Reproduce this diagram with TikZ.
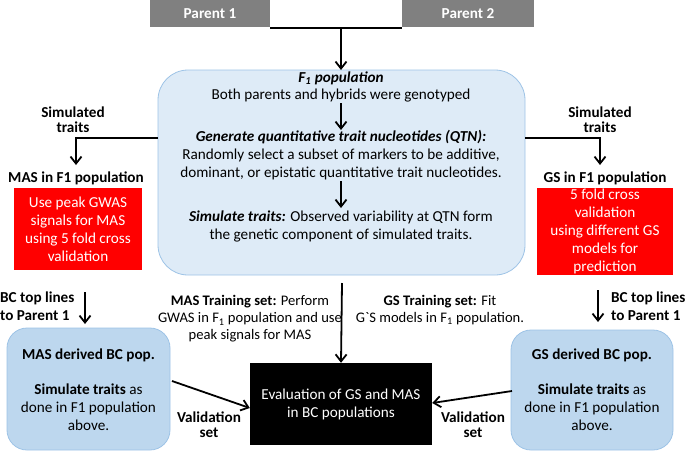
\documentclass[tikz,border=0pt]{standalone}
\usepackage{fontspec}
\setmainfont{Carlito}
\usetikzlibrary{arrows.meta}
\definecolor{parentgray}{HTML}{808080}
\definecolor{paleblue}{HTML}{DEEBF7}
\definecolor{midblue}{HTML}{BDD7EE}
\definecolor{edgeblue}{HTML}{9DC3E6}
\newcommand{\mainsize}{\fontsize{15.2}{18}\selectfont}
\tikzset{
  txt/.style={font=\mainsize, align=center, inner sep=0pt},
  boldtxt/.style={txt, font=\fontsize{15.2}{15}\selectfont\bfseries},
  traintxt/.style={txt, font=\fontsize{14.6}{17}\selectfont},
  parentbox/.style={fill=parentgray, text=white, font=\mainsize\bfseries, minimum width=120pt, minimum height=27pt, inner sep=0pt},
  redbox/.style={fill=red, text=white, txt},
  bcbox/.style={fill=midblue, draw=edgeblue, rounded corners=20pt, line width=0.8pt},
  arr/.style={-{Straight Barb[length=7pt,width=11pt,line width=1.8pt]}, line width=1.8pt},
}
\begin{document}
\begin{tikzpicture}[x=1pt,y=-1pt]
  \useasboundingbox (0,0) rectangle (685,451);
  % parents
  \node[parentbox] (p1) at (210,13.5) {Parent 1};
  \node[parentbox, minimum width=132pt] (p2) at (468,13.5) {Parent 2};
  \draw[line width=1.8pt] (270,28) -- (402,28);
  \coordinate (cross) at (341,28);
  % F1 population box
  \draw[fill=paleblue, draw=edgeblue, rounded corners=30pt, line width=0.8pt] (158,70) rectangle (525,275);
  \coordinate (ftop) at (341,70);
  \draw[arr] (cross) -- (ftop);
  \node[txt] (f1) at (341,78) {\textbf{\textit{F\textsubscript{1} population}}};
  \node[txt] (geno) at (341,96) {Both parents and hybrids were genotyped};
  \node[txt] (qtn) at (341,155) {\textbf{\textit{Generate quantitative trait nucleotides (QTN):}}\\
    Randomly select a subset of markers to be additive,\\
    dominant, or epistatic quantitative trait nucleotides.};
  \node[txt] (sim) at (341,226) {\textbf{\textit{Simulate traits:}} Observed variability at QTN form\\
    the genetic component of simulated traits.};
  \draw[arr] (341,103) -- (341,130);
  \draw[arr] (341,181) -- (341,208);
  % MAS in F1
  \coordinate (lcorner) at (76,138);
  \draw[arr] (158,138) -- (lcorner) -- (76,165);
  \node[boldtxt] (lsim) at (73,120) {Simulated\\traits};
  \node[boldtxt] (mastitle) at (76,178) {MAS in F1 population};
  \node[redbox, minimum width=128pt, minimum height=82pt] (masred) at (78,229) {Use peak GWAS\\signals for MAS\\using 5 fold cross\\validation};
  % GS in F1
  \coordinate (rcorner) at (600,138);
  \draw[arr] (525,138) -- (rcorner) -- (600,165);
  \node[boldtxt] (rsim) at (600,120) {Simulated\\traits};
  \node[boldtxt] (gstitle) at (605,178) {GS in F1 population};
  \node[redbox, minimum width=136pt, minimum height=87pt] (gsred) at (605,231.5) {5 fold cross\\validation\\using different GS\\models for\\prediction};
  % backcross
  \draw[arr] (85,292) -- (85,324);
  \node[txt, font=\mainsize\bfseries, align=left, anchor=west] (lbc) at (0,306) {BC top lines\\to Parent 1};
  \draw[arr] (598,290) -- (598,322);
  \node[txt, font=\mainsize\bfseries, align=left, anchor=west] (rbc) at (611,306) {BC top lines\\to Parent 1};
  \draw[bcbox] (7,328) rectangle (170,450);
  \node[txt] (masbc) at (88.5,390) {\textbf{MAS derived BC pop.}\\[17pt]\textbf{Simulate traits} as\\done in F1 population\\above.};
  \draw[bcbox] (511,330) rectangle (673,450);
  \node[txt] (gsbc) at (592,390) {\textbf{GS derived BC pop.}\\[17pt]\textbf{Simulate traits} as\\done in F1 population\\above.};
  % evaluation
  \node[fill=black, text=white, txt, minimum width=182pt, minimum height=82pt] (eval) at (341,404) {Evaluation of GS and MAS\\in BC populations};
  \draw[arr] (342,283) -- (eval.north);
  \draw[arr] (172,381) -- (eval.west |- 0,408);
  \draw[arr] (512,391) -- (eval.east |- 0,403);
  \node[boldtxt] (lval) at (209,425) {Validation\\set};
  \node[boldtxt] (rval) at (473,425) {Validation\\set};
  \node[traintxt] (mastrain) at (250,319) {\textbf{MAS Training set:} Perform\\GWAS in F\textsubscript{1} population and use\\peak signals for MAS};
  \node[traintxt] (gstrain) at (440,310) {\textbf{GS Training set:} Fit\\G\textasciigrave S models in F\textsubscript{1} population.};
\end{tikzpicture}
\end{document}
